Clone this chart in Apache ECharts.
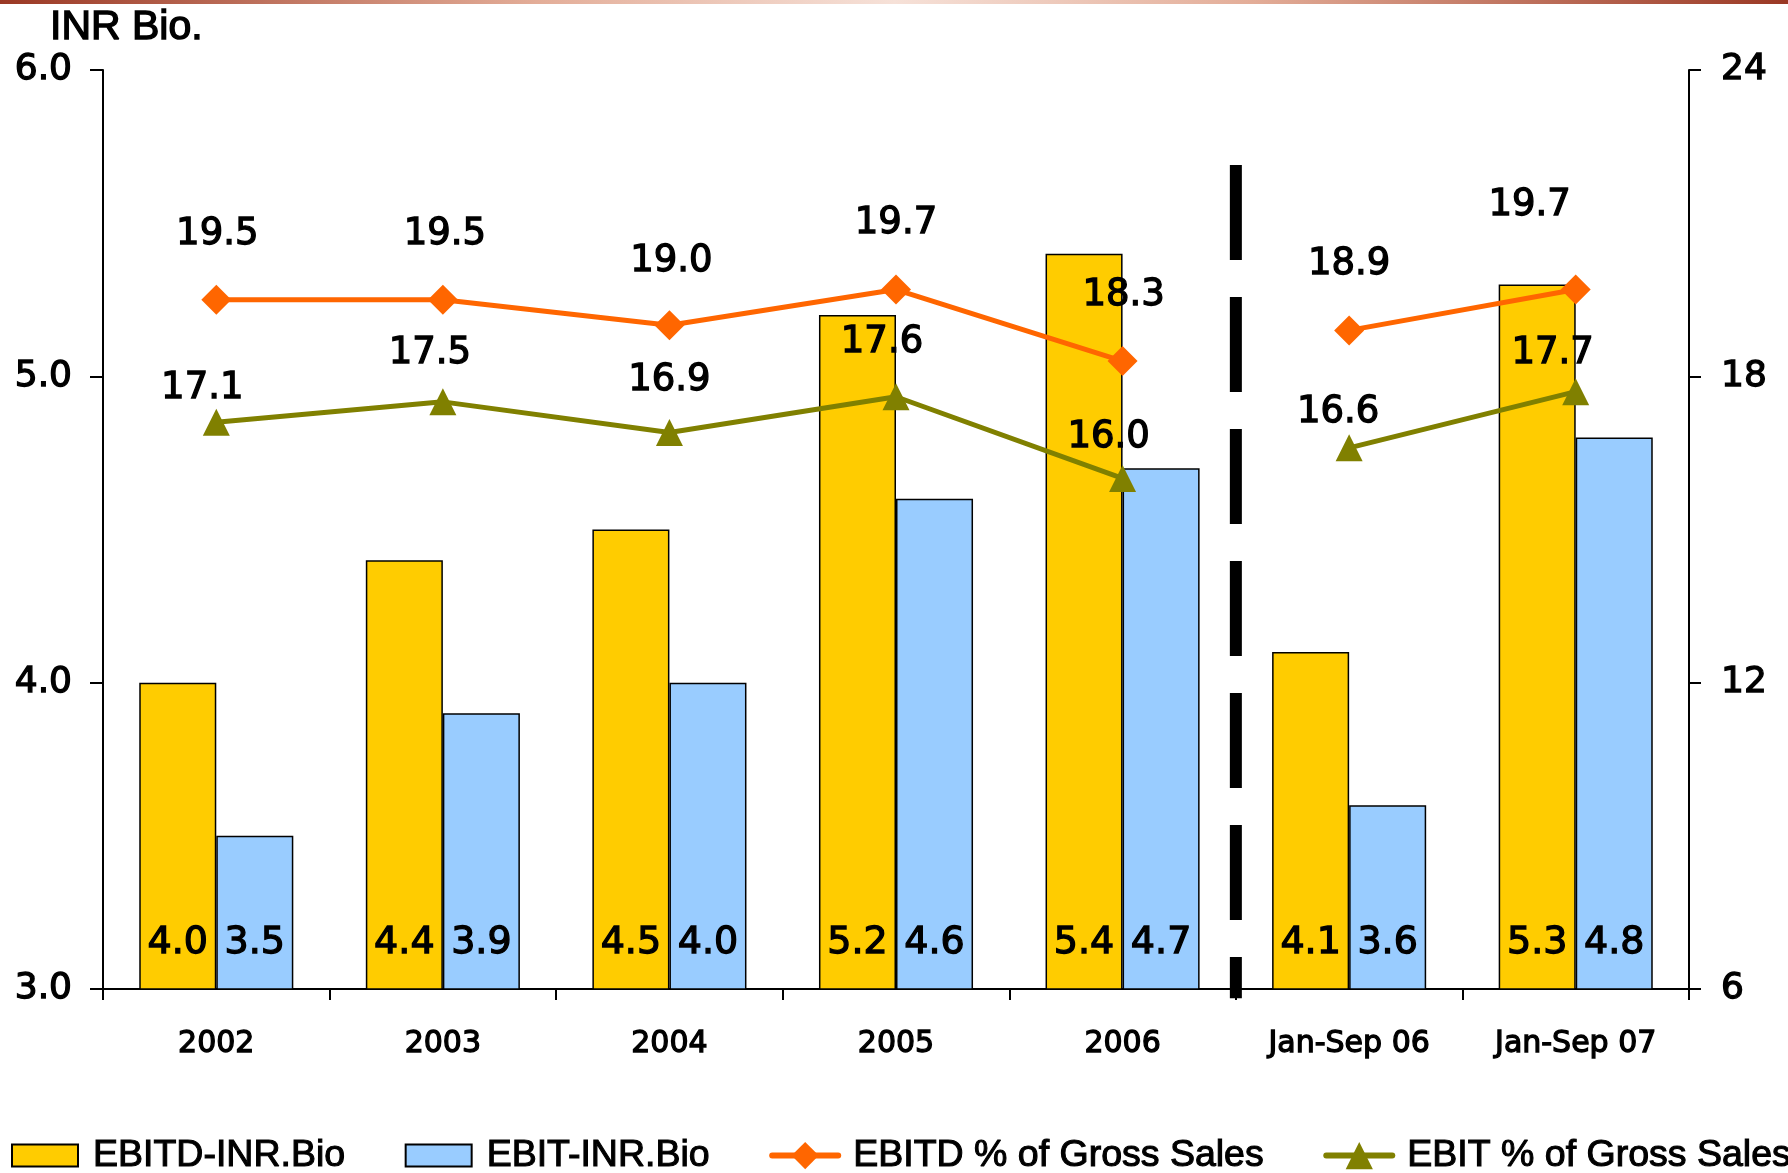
<!DOCTYPE html>
<html>
<head>
<meta charset="utf-8">
<script src="https://cdn.jsdelivr.net/npm/echarts@6/dist/echarts.min.js"></script>
<style>
  html, body { margin: 0; padding: 0; background: #fff; }
  #chart { width: 1788px; height: 1173px; }
</style>
</head>
<body>
<div id="chart"></div>
<script>
// Periods on the category axis
const categories = ['2002', '2003', '2004', '2005', '2006', 'Jan-Sep 06', 'Jan-Sep 07'];

// Absolute values, INR billion (left axis)
const ebitdInr = [4.0, 4.4, 4.5, 5.2, 5.4, 4.1, 5.3];
const ebitInr  = [3.5, 3.9, 4.0, 4.6, 4.7, 3.6, 4.8];

// Margins, % of gross sales (right axis)
const ebitdPct = [19.5, 19.5, 19.0, 19.7, 18.3, 18.9, 19.7];
const ebitPct  = [17.1, 17.5, 16.9, 17.6, 16.0, 16.6, 17.7];

// Axis ranges
const leftAxis  = { min: 3, max: 6, interval: 1 };
const rightAxis = { min: 6, max: 24, interval: 6 };

// Full years vs. nine-month periods are split after the fifth category
const splitAfter = 5;
const splitSpan = [5.69, 2.97];

// Where each margin label sits relative to its point (px)
const ebitdLabelShift = [[1, -65], [2, -65], [2, -64], [0, -66], [1, -66], [0, -66], [-46, -84]];
const ebitLabelShift  = [[-14, -34], [-13, -48], [0, -52], [-14, -54], [-14, -41], [-11, -35], [-23, -38]];

const NUM_FONT = 'DejaVu Sans';
const TEXT_FONT = 'Liberation Sans';
// a thin outline in the text colour gives the labels a medium weight
const heavy = { textBorderColor: '#000', textBorderWidth: 1.3 };

// Margin lines are drawn as two runs so they break at the split
function segment(values, shifts, part) {
  return values.map((v, i) => {
    const inPart = part === 0 ? i < splitAfter : i >= splitAfter;
    return inPart ? { value: v, label: { offset: shifts[i] } } : '-';
  });
}

function marginSeries(name, values, shifts, color, symbol, size) {
  return [0, 1].map(part => ({
    name: name,
    type: 'line',
    yAxisIndex: 1,
    data: segment(values, shifts, part),
    symbol: symbol,
    symbolSize: size,
    lineStyle: { color: color, width: 5 },
    itemStyle: { color: color },
    label: Object.assign({
      show: true, position: 'inside',
      fontFamily: NUM_FONT, fontSize: 37, color: '#000',
      formatter: p => p.value.toFixed(1)
    }, heavy),
    z: 5
  }));
}

function barSeries(name, values, color) {
  return {
    name: name,
    type: 'bar',
    data: values,
    barWidth: '34%',
    barGap: '0%',
    itemStyle: { color: color, borderColor: '#000', borderWidth: 1.5 },
    label: Object.assign({
      show: true, position: 'insideBottom', distance: 28,
      fontFamily: NUM_FONT, fontSize: 38, color: '#000',
      formatter: p => p.value.toFixed(1)
    }, heavy),
    z: 2
  };
}

const chart = echarts.init(document.getElementById('chart'), null, { renderer: 'canvas' });

const barIcon = 'path://M0,0h66v22h-66z';

const option = {
  backgroundColor: '#ffffff',
  animation: false,
  title: {
    text: 'INR Bio.',
    left: 50,
    top: 7,
    padding: 0,
    textStyle: { fontFamily: TEXT_FONT, fontSize: 41, fontWeight: 'normal', color: '#000',
      textBorderColor: '#000', textBorderWidth: 1.4 }
  },
  graphic: [{
    type: 'rect',
    shape: { x: 0, y: 0, width: 1788, height: 4 },
    style: {
      fill: new echarts.graphic.LinearGradient(0, 0, 1, 0, [
        { offset: 0, color: '#9a3824' },
        { offset: 0.3, color: '#e3ad98' },
        { offset: 0.5, color: '#f6e1d8' },
        { offset: 0.7, color: '#e3ad98' },
        { offset: 1, color: '#9a3824' }
      ])
    },
    silent: true
  }],
  legend: {
    data: [
      { name: 'EBITD-INR.Bio', icon: barIcon },
      { name: 'EBIT-INR.Bio', icon: barIcon },
      { name: 'EBITD % of Gross Sales' },
      { name: 'EBIT % of Gross Sales' }
    ],
    left: 11,
    top: 1136,
    padding: 0,
    width: 2200,
    itemWidth: 66,
    itemHeight: 34,
    itemGap: 59,
    symbolKeepAspect: true,
    lineStyle: { width: 6, cap: 'round' },
    textStyle: { fontFamily: TEXT_FONT, fontSize: 37.5, color: '#000', padding: [0, 0, 0, 10],
      textBorderColor: '#000', textBorderWidth: 1.1 }
  },
  grid: { left: 103, right: 99, top: 70, bottom: 184, containLabel: false },
  xAxis: [{
    type: 'category',
    data: categories,
    axisLine: { lineStyle: { color: '#000', width: 2 } },
    axisTick: { show: true, length: 11, lineStyle: { color: '#000', width: 2 } },
    axisLabel: Object.assign({ fontFamily: NUM_FONT, fontSize: 30, color: '#000', margin: 40 }, heavy),
    splitLine: { show: false }
  }, {
    type: 'value',
    min: 0,
    max: categories.length,
    show: false
  }],
  yAxis: [{
    type: 'value',
    min: leftAxis.min,
    max: leftAxis.max,
    interval: leftAxis.interval,
    axisLine: { show: true, lineStyle: { color: '#000', width: 2 } },
    axisTick: { show: true, length: 13, lineStyle: { color: '#000', width: 2 } },
    axisLabel: Object.assign({
      fontFamily: NUM_FONT, fontSize: 36, color: '#000', margin: 31,
      formatter: v => v.toFixed(1)
    }, heavy),
    splitLine: { show: false }
  }, {
    type: 'value',
    position: 'right',
    min: rightAxis.min,
    max: rightAxis.max,
    interval: rightAxis.interval,
    axisLine: { show: true, lineStyle: { color: '#000', width: 2 } },
    axisTick: { show: true, length: 12, lineStyle: { color: '#000', width: 2 } },
    axisLabel: Object.assign({ fontFamily: NUM_FONT, fontSize: 36, color: '#000', margin: 32 }, heavy),
    splitLine: { show: false }
  }],
  series: [
    barSeries('EBITD-INR.Bio', ebitdInr, '#FFCC00'),
    barSeries('EBIT-INR.Bio', ebitInr, '#99CCFF'),
    ...marginSeries('EBITD % of Gross Sales', ebitdPct, ebitdLabelShift, '#FF6600', 'diamond', 30),
    ...marginSeries('EBIT % of Gross Sales', ebitPct, ebitLabelShift, '#808000', 'triangle', 27),
    {
      name: 'split',
      type: 'line',
      xAxisIndex: 1,
      yAxisIndex: 0,
      data: [[splitAfter, splitSpan[0]], [splitAfter, splitSpan[1]]],
      symbol: 'none',
      clip: false,
      silent: true,
      lineStyle: { color: '#000', width: 12, type: [95, 37], cap: 'butt' },
      z: 4
    }
  ]
};

chart.setOption(option);
</script>
</body>
</html>
